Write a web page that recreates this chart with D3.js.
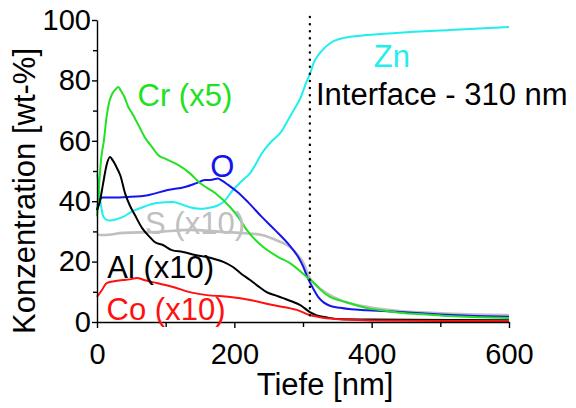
<!DOCTYPE html>
<html>
<head>
<meta charset="utf-8">
<script src="https://cdn.jsdelivr.net/npm/d3@7"></script>
<style>
  html, body { margin: 0; padding: 0; background: #fff; }
  svg { display: block; font-family: "Liberation Sans", Arial, sans-serif; }
</style>
</head>
<body>
<svg id="chart" width="576" height="408"></svg>
<script>
// ---- data (depth in nm, concentration in wt-%) ----
const xTicks = [0, 200, 400, 600];
const xMinorTicks = [100, 300, 500];
const yTicks = [0, 20, 40, 60, 80, 100];
const yMinorTicks = [10, 30, 50, 70, 90];
const interfaceDepth = 310;

const znDepth = [0, 2, 5, 9, 14, 19, 28, 38, 50, 63, 87, 111, 125, 135, 150, 160, 175, 184, 198, 210, 223, 242, 255, 267, 281, 290, 296, 305, 310, 315, 325, 340, 358, 393, 441, 514, 600];
const znValue = [49, 46, 40, 35, 33.8, 33.6, 34, 34.8, 36.5, 37.7, 39.4, 39.7, 38.8, 38, 37.5, 37.7, 38.5, 39.7, 43.7, 46.5, 49.3, 56.5, 60, 62.6, 68, 71.5, 74, 79.5, 82, 85.5, 89.2, 92.4, 94, 95, 95.8, 96.7, 97.7];

const sDepth = [0, 10, 38, 87, 135, 184, 216, 240, 262, 281, 293, 300, 310, 318, 325, 344, 368, 393, 441, 500, 600];
const sValue = [29, 28.8, 29.5, 29.8, 30.5, 29.8, 29.4, 28.8, 27, 24.8, 22, 19.8, 14.5, 12.3, 11, 8.3, 6.2, 5, 3.6, 2.9, 2.3];

const oDepth = [0, 3, 8, 20, 45, 74, 103, 128, 145, 157, 165, 176, 182, 191, 205, 220, 240, 259, 278, 293, 300, 307, 315, 322, 330, 340, 354, 370, 393, 441, 500, 550, 600];
const oValue = [37, 40, 41.2, 41.2, 41.4, 42, 43.7, 44.7, 46, 47, 47, 47.5, 46.8, 45.4, 43, 39.7, 34.8, 30.5, 26, 21.5, 18.5, 14.5, 11, 8.3, 6.5, 5.3, 4.7, 4.2, 3.9, 3.3, 2.5, 2.0, 1.7];

const crDepth = [0, 3, 6, 10, 14, 18, 22, 27, 31, 35, 40, 45, 50, 55, 62, 70, 80, 89, 100, 118, 135, 150, 172, 194, 205, 218, 242, 264, 281, 305, 318, 325, 339, 356, 368, 393, 420, 441, 480, 514, 560, 600];
const crValue = [35, 45, 54, 60, 68, 73, 75.5, 77, 77.8, 76.5, 74.5, 71.5, 69.5, 67.5, 64.5, 61, 58, 55.3, 54, 52, 49.3, 46, 42.7, 38, 35, 30.5, 24.8, 21.5, 19.5, 15, 12.5, 10.8, 8.3, 7, 6.2, 4.6, 3.7, 3.1, 2.5, 2.0, 1.6, 1.3];

const alDepth = [0, 4, 9, 14, 19, 23, 29, 34, 41, 48, 55, 66, 77, 84, 96, 109, 125, 143, 160, 172, 184, 198, 210, 223, 235, 247, 260, 271, 284, 296, 310, 320, 335, 350, 400, 600];
const alValue = [37, 39.7, 46, 52, 54.6, 53.5, 51, 48.5, 42.5, 38.5, 35.5, 31, 28.1, 26.5, 25.5, 23.8, 23.2, 22.2, 21.5, 20.8, 19.9, 18.2, 16, 13.9, 11.8, 9.9, 8.8, 7.9, 6.8, 5.6, 3.3, 2.2, 1.5, 1.0, 0.8, 0.6];

const coDepth = [0, 7, 14, 25, 38, 50, 58, 70, 87, 111, 135, 160, 194, 223, 256, 291, 310, 329, 360, 400, 600];
const coValue = [8.3, 10.5, 12.9, 13.5, 13.9, 14.2, 14.6, 13.8, 12.9, 11.6, 9.9, 8.9, 8.3, 7.3, 5.6, 4.0, 2.3, 1.4, 0.8, 0.5, 0.3];

const seriesNames = ["Zn", "S (x10)", "O", "Cr (x5)", "Al (x10)", "Co (x10)"];
const seriesColors = ["#22eeee", "#c0c0c0", "#1414ee", "#22e022", "#000000", "#ff1010"];
const seriesDepths = [znDepth, sDepth, oDepth, crDepth, alDepth, coDepth];
const seriesValues = [znValue, sValue, oValue, crValue, alValue, coValue];
// label anchor positions in data units (depth, value)
const labelDepth = [403, 70, 165, 59, 15, 14];
const labelValue = [84.5, 29, 48, 71.5, 14.5, 0.5];

// ---- layout ----
const svg = d3.select("#chart");
const x = d3.scaleLinear().domain([0, 600]).range([97, 509]);
const y = d3.scaleLinear().domain([0, 100]).range([322, 20]);
const font = "Liberation Sans, Arial, sans-serif";
const textSize = 31;

// curves
const line = d3.line().x(d => x(d[0])).y(d => y(d[1])).curve(d3.curveMonotoneX);
seriesNames.forEach((name, i) => {
  const pts = seriesDepths[i].map((d, j) => [d, seriesValues[i][j]]);
  svg.append("path")
    .attr("d", line(pts))
    .attr("fill", "none")
    .attr("stroke", seriesColors[i])
    .attr("stroke-width", i === 1 ? 2.6 : 2)
    .attr("stroke-linejoin", "round");
});

// interface line
svg.append("line")
  .attr("x1", x(interfaceDepth)).attr("x2", x(interfaceDepth))
  .attr("y1", y(100) - 3).attr("y2", y(0))
  .attr("stroke", "#000").attr("stroke-width", 2.4)
  .attr("stroke-dasharray", "0.1,7").attr("stroke-linecap", "round");

// axes
svg.append("g").attr("transform", `translate(0,${y(0)})`)
  .call(d3.axisBottom(x).tickValues(xTicks).tickSize(6).tickPadding(15).tickSizeOuter(0));
svg.append("g").attr("transform", `translate(0,${y(0)})`)
  .call(d3.axisBottom(x).tickValues(xMinorTicks).tickSize(5).tickFormat("").tickSizeOuter(0))
  .select(".domain").remove();
svg.append("g").attr("transform", `translate(${x(0)},0)`)
  .call(d3.axisLeft(y).tickValues(yTicks).tickSize(5).tickPadding(1).tickSizeOuter(0));
svg.append("g").attr("transform", `translate(${x(0)},0)`)
  .call(d3.axisLeft(y).tickValues(yMinorTicks).tickSize(4).tickFormat("").tickSizeOuter(0))
  .select(".domain").remove();

svg.selectAll(".domain, .tick line").attr("stroke", "#000").attr("stroke-width", 1.4);
svg.selectAll(".tick text").attr("font-family", font).attr("font-size", 29).attr("fill", "#000");

// axis titles
svg.append("text").attr("x", 325).attr("y", 395)
  .attr("text-anchor", "middle").attr("font-family", font).attr("font-size", textSize)
  .text("Tiefe [nm]");
svg.append("text").attr("transform", "translate(35,191) rotate(-90)")
  .attr("text-anchor", "middle").attr("font-family", font).attr("font-size", textSize)
  .text("Konzentration [wt-%]");

// series labels
seriesNames.forEach((name, i) => {
  svg.append("text")
    .attr("x", x(labelDepth[i])).attr("y", y(labelValue[i]))
    .attr("font-family", font).attr("font-size", textSize)
    .attr("fill", seriesColors[i])
    .text(name);
});

// interface annotation
svg.append("text").attr("x", 316).attr("y", 105)
  .attr("font-family", font).attr("font-size", textSize).attr("fill", "#000")
  .text("Interface - " + interfaceDepth + " nm");
</script>
</body>
</html>
